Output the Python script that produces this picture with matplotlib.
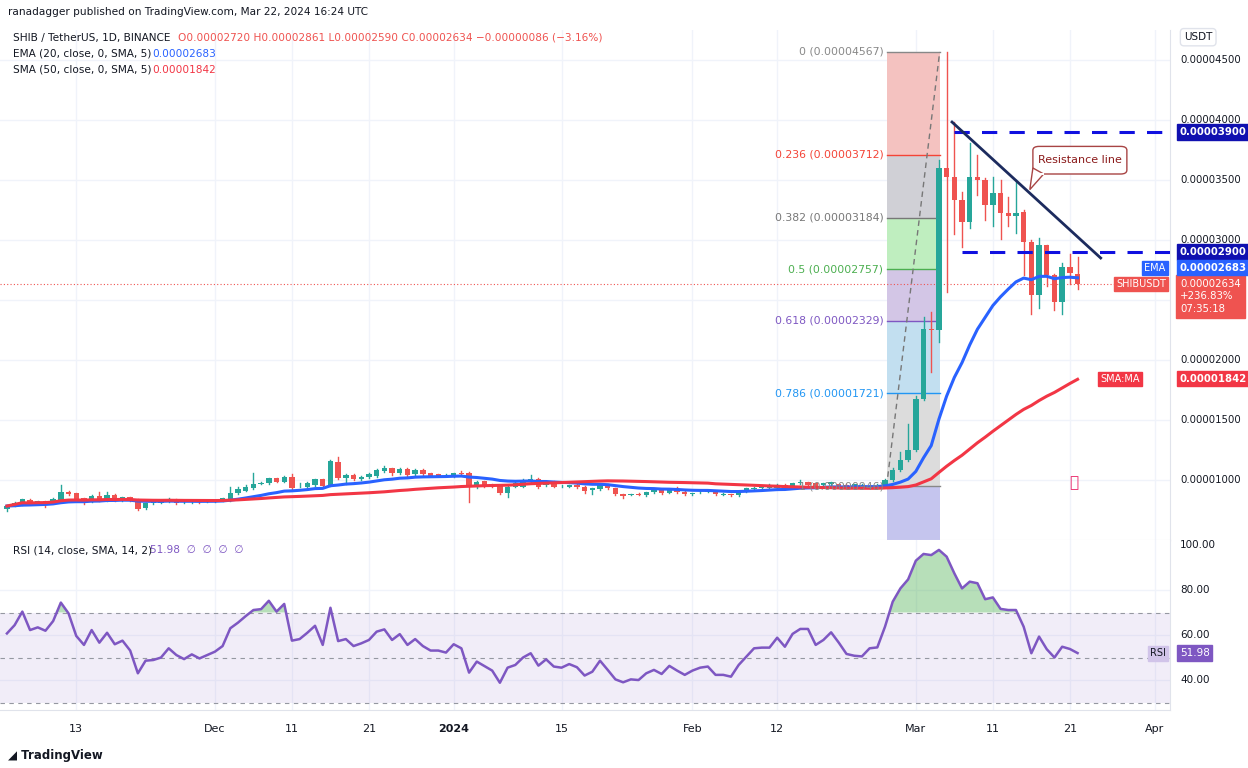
import numpy as np
import pandas as pd
import matplotlib
matplotlib.use("Agg")
import matplotlib.pyplot as plt
from matplotlib.patches import FancyBboxPatch, Polygon
from matplotlib.transforms import blended_transform_factory as btf

# prices in units of 1e-8 USDT, daily candles from 2023-11-04 to 2024-03-22
opens = [755,788,800,833,819,819,810,833,902,888,846,824,866,833,874,833,855,833,763,805,
         810,819,838,824,819,819,819,824,827,833,888,910,933,972,972,1013,986,1027,958,944,
         958,1005,958,1152,1013,1041,1005,1022,1033,1075,1097,1055,1091,1047,1083,1055,1047,1041,1027,1061,
         1055,944,991,963,952,888,944,944,986,1008,958,986,950,944,958,944,916,924,963,930,
         880,880,883,875,897,916,894,924,902,880,897,902,902,880,880,875,908,922,930,930,
         930,958,944,972,980,972,958,963,963,958,944,944,952,936,958,1000,1081,1164,1248,1678,
         2262,2254,3597,3527,3333,3152,3527,3499,3291,3388,3221,3202,3230,2985,2540,2957,2707,2485,2777,2720]
closes = [783,810,838,805,819,815,844,902,880,838,819,866,833,874,833,855,827,755,805,819,
          824,844,810,824,819,815,824,830,846,894,922,944,966,972,1013,986,1027,930,958,977,
          1005,950,1161,1013,1041,1005,1027,1050,1083,1097,1055,1091,1041,1083,1047,1036,1036,1041,1055,1047,
          944,986,952,944,888,944,972,1000,1008,944,986,944,950,958,938,908,930,963,930,880,
          869,880,877,897,916,888,916,897,880,888,902,911,880,880,875,902,930,936,941,952,
          958,930,972,986,958,944,972,980,944,936,963,958,936,958,1000,1081,1164,1248,1678,2262,
          2254,3597,3527,3333,3152,3527,3499,3291,3388,3221,3202,3221,2985,2540,2957,2707,2485,2777,2721,2634]
highs = [795,820,845,840,826,825,850,958,910,892,850,872,902,900,880,860,858,838,810,826,
         830,852,845,836,828,826,830,836,852,944,940,958,1061,980,1020,1018,1033,1050,972,983,
         1010,1010,1166,1188,1046,1050,1033,1055,1090,1120,1102,1097,1096,1088,1090,1060,1052,1048,1060,1075,
         1065,995,995,970,958,950,990,1010,1040,1015,992,992,958,962,963,950,935,968,968,935,
         886,886,888,902,920,920,920,940,906,893,906,915,906,888,886,906,935,941,946,963,
         963,966,977,1000,985,977,977,986,968,963,968,963,958,963,1010,1100,1234,1470,1700,2360,
         2401,3666,4567,3986,3400,3805,3708,3520,3527,3499,3360,3499,3250,3000,3020,2960,2720,2810,2880,2861]
lows = [745,780,795,798,812,777,805,828,875,832,800,818,828,828,826,828,822,750,758,800,
        805,814,800,812,812,810,815,820,822,828,882,905,928,965,966,980,980,925,944,938,
        952,945,952,1008,970,1000,1000,1016,1028,1070,1045,1050,1030,1042,1040,1030,1030,1035,1022,1040,
        819,935,945,938,882,860,940,938,980,930,950,938,944,938,932,890,880,918,925,875,
        850,874,872,870,892,883,890,892,875,875,892,898,875,872,870,870,903,918,925,925,
        925,925,938,966,952,938,952,958,938,930,938,938,930,930,952,995,1075,1160,1240,1670,
        1900,2151,2568,3054,2943,3096,3374,3166,3120,3005,3120,3060,2707,2387,2430,2620,2420,2380,2630,2590]
rsi_values = [60.7,64.4,70.4,62.2,63.4,61.9,66.2,74.4,69.6,59.6,55.6,62.2,56.6,61.0,55.9,57.5,53.1,43.0,48.6,48.9,
              50.0,54.1,51.1,49.3,51.4,49.6,51.1,52.6,55.1,63.0,65.5,68.4,71.1,71.5,75.2,70.4,73.8,57.5,58.2,61.0,
              64.1,55.6,72.1,57.3,58.2,55.1,56.3,57.8,61.5,62.5,57.8,60.4,55.6,58.2,55.1,53.1,53.1,52.2,55.9,54.1,
              43.3,48.2,46.2,44.2,38.8,45.5,46.7,50.0,51.9,46.4,49.2,46.0,45.5,47.1,45.7,42.0,43.7,48.6,44.5,40.3,
              39.0,40.3,40.0,43.0,44.5,42.7,46.3,44.2,42.3,44.2,45.5,46.0,42.3,42.3,41.5,46.7,50.4,54.1,54.4,54.4,
              58.8,54.8,60.5,62.7,62.7,55.6,57.8,61.2,56.6,51.6,50.8,50.5,54.1,54.5,63.7,74.8,80.7,84.7,93.0,96.0,
              95.5,97.8,94.8,87.4,80.7,83.7,83.0,75.9,76.7,71.6,71.1,71.1,63.7,51.9,59.3,53.7,50.0,54.8,53.8,51.98]

fib_ratios = [0, 0.236, 0.382, 0.5, 0.618, 0.786, 1]
fib_prices = [4567, 3712, 3184, 2757, 2329, 1721, 946]
price_ticks = [1000, 1500, 2000, 3000, 3500, 4000, 4500]
date_ticks = [9, 27, 37, 47, 58, 72, 89, 100, 118, 128, 138, 149]
date_labels = ["13", "Dec", "11", "21", "2024", "15", "Feb", "12", "Mar", "11", "21", "Apr"]
res_line_x = [122.7, 142]
res_line_y = [3983, 2850]
level_hi, level_lo = 3900, 2900

S = 1e-8
o = np.array(opens)*S; c = np.array(closes)*S; h = np.array(highs)*S; l = np.array(lows)*S
n = len(c); x = np.arange(n)
ema = pd.Series(c).ewm(span=20, adjust=False).mean().values
sma = pd.Series(c).rolling(50, min_periods=1).mean().values
rsi = np.array(rsi_values)

W, H = 1248, 768
fig = plt.figure(figsize=(12.48, 7.68), dpi=100)
def rect(l_, t, r, b):
    return [l_/W, 1-b/H, (r-l_)/W, (b-t)/H]
ax = fig.add_axes(rect(0, 30, 1170, 540))
ar = fig.add_axes(rect(0, 540, 1170, 710))
xmin, xmax = -0.9, 151
ax.set_xlim(xmin, xmax); ar.set_xlim(xmin, xmax)
ax.set_ylim(500*S, 4750*S); ar.set_ylim(26.7, 102.2)
for a in (ax, ar):
    a.set_xticks([]); a.set_yticks([])
    for s in a.spines.values():
        s.set_color('#e0e3eb'); s.set_linewidth(0.8)
    a.spines['left'].set_visible(False); a.spines['top'].set_visible(False)
    for dt in date_ticks:
        a.axvline(dt, color='#f0f3fa', lw=1, zorder=0)
for p in price_ticks + [2500]:
    ax.axhline(p*S, color='#f0f3fa', lw=1, zorder=0)
for p in [40, 60, 80]:
    ar.axhline(p, color='#f0f3fa', lw=1, zorder=0)

# fib
fx0, fx1 = 114.2, 121.1
fcols = ['#f4c2c0', '#d0d0d6', '#bfeebf', '#d3c6e6', '#c2dff0', '#dcdcdc']
lcols = ['#888888', '#f44336', '#777777', '#4caf50', '#7e57c2', '#2196f3', '#888888']
for i in range(6):
    ax.fill_between([fx0, fx1], fib_prices[i+1]*S, fib_prices[i]*S, color=fcols[i], zorder=1, lw=0)
ax.fill_between([fx0, fx1], 500*S, fib_prices[-1]*S, color='#c5c5ee', zorder=1, lw=0)
for r, p, col in zip(fib_ratios, fib_prices, lcols):
    ax.plot([fx0, fx1], [p*S, p*S], color=col, lw=1, zorder=2)
    ax.text(fx0-0.4, p*S, f"{r} ({p*S:.8f})", ha='right', va='center', fontsize=7.8, color=col, zorder=5)
ax.plot([fx0, fx1], [fib_prices[-1]*S, fib_prices[0]*S], color='#777777', lw=1, ls=(0, (4, 3)), zorder=2)

# candles
green, red = '#26a69a', '#ef5350'
for i in range(n):
    col = green if c[i] >= o[i] else red
    ax.plot([i, i], [l[i], h[i]], color=col, lw=1, zorder=3)
    lo_, hi_ = min(o[i], c[i]), max(o[i], c[i])
    if hi_ - lo_ < 4*S:
        hi_ += 2*S; lo_ -= 2*S
    ax.bar(i, hi_-lo_, bottom=lo_, width=0.7, color=col, zorder=3, lw=0)

ax.plot(x, ema, color='#2962ff', lw=2.2, zorder=4)
ax.plot(x, sma, color='#f23645', lw=2.2, zorder=4)
ax.axhline(c[-1], color='#ef5350', lw=0.8, ls=(0, (1, 2)), zorder=2)

# drawings
ax.plot([123, 151], [level_hi*S]*2, color='#1010e0', lw=2.2, ls=(0, (5, 4)), zorder=5)
ax.plot([124, 151], [level_lo*S]*2, color='#1010e0', lw=2.2, ls=(0, (5, 4)), zorder=5)
ax.plot(res_line_x, [v*S for v in res_line_y], color='#1c2b5e', lw=2, zorder=5)
box = FancyBboxPatch((133.2, 3550*S), 12.2, 230*S, boxstyle='round,pad=0,rounding_size=0.8',
                     fc='white', ec='#a84444', lw=1, zorder=6, mutation_aspect=S*40)
ax.add_patch(box)
ax.add_patch(Polygon([[133.2, 3600*S], [132.8, 3420*S], [134.6, 3550*S]], closed=True,
                     fc='white', ec='#a84444', lw=1, zorder=6))
ax.plot([133.3, 134.5], [3551*S, 3551*S], color='white', lw=1.5, zorder=7)
ax.text(139.3, 3665*S, "Resistance line", ha='center', va='center', fontsize=8, color='#8b1a1a', zorder=8)
ax.text(138.5, 980*S, "ⓢ", ha='center', va='center', fontsize=11, color='#e91e63')

# header
fs = 7.6
fig.text(8/W, 1-12/H, "ranadagger published on TradingView.com, Mar 22, 2024 16:24 UTC", fontsize=fs, color='#131722', va='center')
fig.text(13/W, 1-38/H, "SHIB / TetherUS, 1D, BINANCE", fontsize=fs, color='#131722', va='center')
fig.text(178/W, 1-38/H, "O0.00002720 H0.00002861 L0.00002590 C0.00002634 −0.00000086 (−3.16%)",
         fontsize=fs, color='#ef5350', va='center')
fig.text(13/W, 1-54/H, "EMA (20, close, 0, SMA, 5)", fontsize=fs, color='#131722', va='center')
fig.text(152/W, 1-54/H, "0.00002683", fontsize=fs, color='#2962ff', va='center')
fig.text(13/W, 1-70/H, "SMA (50, close, 0, SMA, 5)", fontsize=fs, color='#131722', va='center')
fig.text(152/W, 1-70/H, "0.00001842", fontsize=fs, color='#f23645', va='center')

# right axis
tr = btf(ax.transAxes, ax.transData)
R = lambda px: px/1170
ax.text(R(1184), 4690*S, "USDT", transform=tr, fontsize=7.5, color='#131722', va='center', clip_on=False,
        bbox=dict(boxstyle='round,pad=0.35', fc='white', ec='#e0e3eb'))
for p in price_ticks:
    ax.text(R(1180), p*S, f"{p*S:.8f}", transform=tr, fontsize=7.3, color='#131722', va='center', clip_on=False)
def tag(y, txt, fc, x0=R(1180)):
    ax.text(x0, y, txt, transform=tr, fontsize=7.3, color='white', va='center', clip_on=False,
            fontweight='bold', bbox=dict(boxstyle='square,pad=0.25', fc=fc, ec=fc), zorder=10)
tag(level_hi*S, "0.00003900", '#1010b0')
tag(level_lo*S, "0.00002900", '#1010b0')
ax.text(R(1144), 2767*S, "EMA", transform=tr, fontsize=7, color='white', va='center', clip_on=False,
        bbox=dict(boxstyle='square,pad=0.25', fc='#2962ff', ec='#2962ff'), zorder=10)
tag(2767*S, "0.00002683", '#2962ff')
ax.text(R(1116), 2633*S, "SHIBUSDT", transform=tr, fontsize=7, color='white', va='center', clip_on=False,
        bbox=dict(boxstyle='square,pad=0.25', fc='#ef5350', ec='#ef5350'), zorder=10)
ax.text(R(1180), 2530*S, "0.00002634\n+236.83%\n07:35:18", transform=tr, fontsize=7.3, color='white',
        va='center', clip_on=False, linespacing=1.35,
        bbox=dict(boxstyle='square,pad=0.4', fc='#ef5350', ec='#ef5350'), zorder=9)
ax.text(R(1100), 1842*S, "SMA:MA", transform=tr, fontsize=7, color='white', va='center', clip_on=False,
        bbox=dict(boxstyle='square,pad=0.25', fc='#f23645', ec='#f23645'), zorder=10)
tag(1842*S, "0.00001842", '#f23645')

# RSI
ar.axhspan(30, 70, color='#7e57c2', alpha=0.1, lw=0)
for v in (70, 50, 30):
    ar.axhline(v, color='#9598a1', lw=0.8, ls=(0, (4, 4)))
ar.fill_between(x, 70, rsi, where=rsi > 70, interpolate=True, color='#4caf50', alpha=0.4, lw=0)
ar.plot(x, rsi, color='#7e57c2', lw=1.8, zorder=4)
tr2 = btf(ar.transAxes, ar.transData)
for v in (100, 80, 60, 40):
    ar.text(R(1180), v, f"{v:.2f}", transform=tr2, fontsize=7.5, color='#131722', va='center', clip_on=False)
ar.text(R(1150), rsi[-1], "RSI", transform=tr2, fontsize=7, color='#131722', va='center', clip_on=False,
        bbox=dict(boxstyle='square,pad=0.25', fc='#d1c4e9', ec='#d1c4e9'))
ar.text(R(1180), rsi[-1], f"{rsi[-1]:.2f}", transform=tr2, fontsize=7.5, color='white', va='center', clip_on=False,
        bbox=dict(boxstyle='square,pad=0.25', fc='#7e57c2', ec='#7e57c2'))
ar.text(13/1170, 0.94, "RSI (14, close, SMA, 14, 2)", transform=ar.transAxes, fontsize=fs, color='#131722', va='center')
ar.text(150/1170, 0.94, f"{rsi[-1]:.2f}  ∅  ∅  ∅  ∅", transform=ar.transAxes, fontsize=fs, color='#7e57c2', va='center')

# dates
trd = btf(ar.transData, ar.transAxes)
for dt, lab in zip(date_ticks, date_labels):
    ar.text(dt, -0.11, lab, transform=trd, ha='center', va='center', fontsize=8, color='#131722',
            fontweight='bold' if lab == '2024' else 'normal', clip_on=False)
fig.text(8/W, 1-756/H, "◢ TradingView", fontsize=8.5, color='#131722', va='center', fontweight='bold')

fig.savefig("out.png", dpi=100, facecolor='white')
